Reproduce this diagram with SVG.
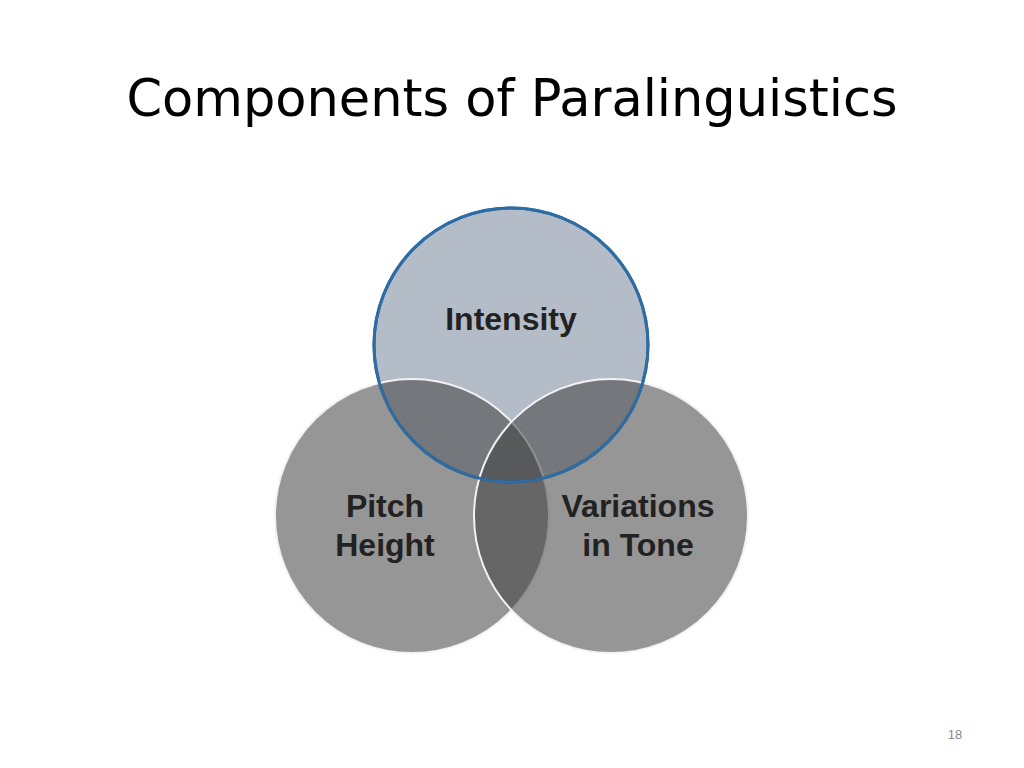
<svg xmlns="http://www.w3.org/2000/svg" width="1024" height="768" viewBox="0 0 1024 768">
<style>
.lbl{font-family:"Liberation Sans",Arial,sans-serif;font-size:32px;font-weight:bold;fill:#222;text-anchor:middle}
.gray{fill:#404040;fill-opacity:0.55;stroke:#f2f2f2;stroke-width:2}
</style>
<rect width="1024" height="768" fill="#fff"/>
<text x="512" y="116" font-family="DejaVu Sans,Verdana,sans-serif" font-size="51" fill="#000" text-anchor="middle">Components of Paralinguistics</text>
<g id="intensity">
<circle cx="511" cy="345" r="137" fill="#b4bcc8" stroke="#2e6ca4" stroke-width="3"/>
</g>
<g id="pitch"><circle class="gray" cx="412" cy="516" r="137"/></g>
<g id="variations"><circle class="gray" cx="611" cy="516" r="137"/></g>
<circle cx="511" cy="345" r="137" fill="none" stroke="#2e6ca4" stroke-width="3"/>
<text class="lbl" x="511" y="330">Intensity</text>
<text class="lbl" x="385" y="517">Pitch</text>
<text class="lbl" x="385" y="556">Height</text>
<text class="lbl" x="638" y="517">Variations</text>
<text class="lbl" x="638" y="556">in Tone</text>
<text x="955" y="739" font-family="Liberation Sans,Arial,sans-serif" font-size="13" fill="#8a8a8a" text-anchor="middle">18</text>
</svg>
